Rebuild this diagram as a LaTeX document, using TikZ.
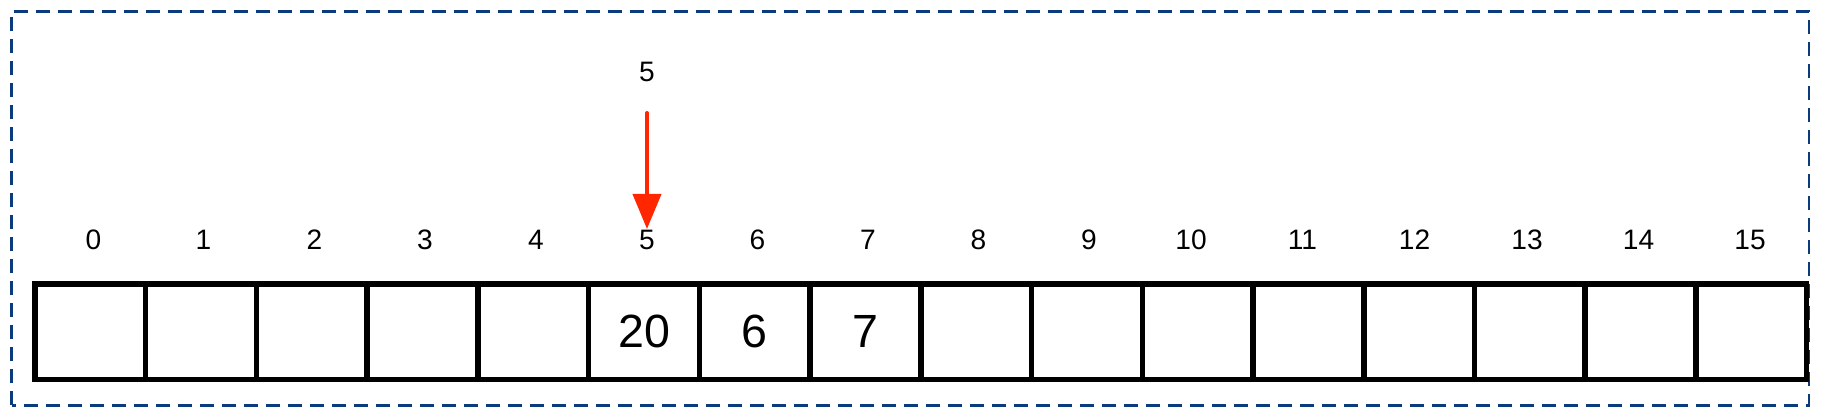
\documentclass[tikz,border=0pt]{standalone}
\usepackage{fontspec}
\setmainfont{Liberation Sans}
\usetikzlibrary{arrows.meta, positioning}
\definecolor{framenavy}{RGB}{10, 60, 125}
\definecolor{pointerred}{RGB}{255, 38, 0}

\begin{document}
\begin{tikzpicture}[
    % Node styles
    cell/.style={
        rectangle,
        draw=black,
        line width=0.11cm,
        minimum width=2.2146cm,
        minimum height=1.91cm,
        inner sep=0pt,
        outer sep=0pt,
        font=\fontsize{26.5}{30}\selectfont
    },
    index/.style={
        font=\fontsize{16}{19}\selectfont,
        inner sep=0pt
    },
    pointer/.style={
        -{Triangle[width=0.56cm, length=0.7cm]},
        line width=0.08cm,
        color=#1
    },
    frame/.style={
        draw=#1,
        line width=0.055cm,
        dash pattern=on 0.28cm off 0.16cm
    }
]
\useasboundingbox (0, 0) rectangle (36.48, 8.32);

% ============================================
% OUTER FRAME
% ============================================
\draw[frame=framenavy] (0.234, 0.214) rectangle (36.18, 8.094);

% ============================================
% ARRAY CELLS
% ============================================
\node[cell] (c0) at (1.807, 1.685) {};
\node[cell] (c1) at (4.022, 1.685) {};
\node[cell] (c2) at (6.237, 1.685) {};
\node[cell] (c3) at (8.451, 1.685) {};
\node[cell] (c4) at (10.666, 1.685) {};
\node[cell] (c5) at (12.880, 1.685) {20};
\node[cell] (c6) at (15.095, 1.685) {6};
\node[cell] (c7) at (17.309, 1.685) {7};
\node[cell] (c8) at (19.524, 1.685) {};
\node[cell] (c9) at (21.738, 1.685) {};
\node[cell] (c10) at (23.953, 1.685) {};
\node[cell] (c11) at (26.167, 1.685) {};
\node[cell] (c12) at (28.382, 1.685) {};
\node[cell] (c13) at (30.597, 1.685) {};
\node[cell] (c14) at (32.811, 1.685) {};
\node[cell] (c15) at (35.026, 1.685) {};

% ============================================
% INDEX LABELS
% ============================================
\node[index] (i0) at (1.87, 3.52) {0};
\node[index] (i1) at (4.07, 3.52) {1};
\node[index] (i2) at (6.29, 3.52) {2};
\node[index] (i3) at (8.50, 3.52) {3};
\node[index] (i4) at (10.72, 3.52) {4};
\node[index] (i5) at (12.94, 3.52) {5};
\node[index] (i6) at (15.15, 3.52) {6};
\node[index] (i7) at (17.36, 3.52) {7};
\node[index] (i8) at (19.57, 3.52) {8};
\node[index] (i9) at (21.78, 3.52) {9};
\node[index] (i10) at (23.82, 3.52) {10};
\node[index] (i11) at (26.05, 3.52) {11};
\node[index] (i12) at (28.29, 3.52) {12};
\node[index] (i13) at (30.54, 3.52) {13};
\node[index] (i14) at (32.77, 3.52) {14};
\node[index] (i15) at (35.00, 3.52) {15};

% ============================================
% POINTER
% ============================================
\node[index] (ptr) at (12.94, 6.88) {5};
\draw[pointer=pointerred, line cap=round] ([yshift=-0.82cm]ptr.center) -- ([yshift=0.22cm]i5.center);

\end{tikzpicture}
\end{document}
